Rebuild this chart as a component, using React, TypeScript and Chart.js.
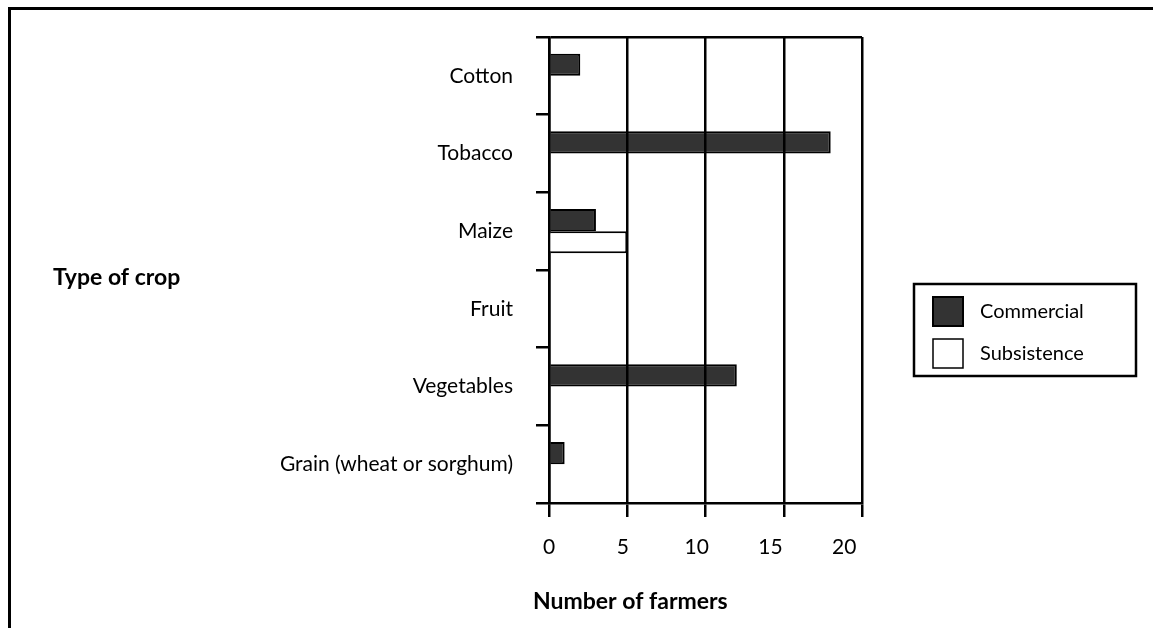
import React, { useEffect, useRef } from "react";
import { Chart, registerables } from "chart.js";

Chart.register(...registerables);

const categories = ["Cotton", "Tobacco", "Maize", "Fruit", "Vegetables", "Grain (wheat or sorghum)"];
const commercial = [2, 18, 3, 0, 12, 1];
const subsistence = [0, 0, 5, 0, 0, 0];
const seriesNames = ["Commercial", "Subsistence"];
const xTicks = [0, 5, 10, 15, 20];
const yTitle = "Type of crop";
const xTitle = "Number of farmers";

const FONT = "Lato, 'Open Sans', sans-serif";

const overlay = {
  id: "overlay",
  afterDraw(chart: any) {
    const c = chart.ctx;
    c.save();
    c.fillStyle = "#000";
    c.textBaseline = "middle";
    c.textAlign = "left";
    c.font = `bold 23px ${FONT}`;
    c.fillText(yTitle, 53, 278);
    c.fillText(xTitle, 533, 602);
    // legend
    c.lineWidth = 2.5;
    c.strokeStyle = "#000";
    c.strokeRect(914, 284, 222, 92);
    chart.data.datasets.forEach((ds: any, i: number) => {
      const y = 297 + i * 42;
      c.fillStyle = ds.backgroundColor;
      c.fillRect(933, y, 30, 29);
      c.lineWidth = i === 0 ? 2 : 1.5;
      c.strokeRect(933, y, 30, 29);
      c.fillStyle = "#000";
      c.font = `20px ${FONT}`;
      c.fillText(ds.label, 980, y + 15);
    });
    c.restore();
  },
};

export default function App() {
  const ref = useRef<HTMLCanvasElement | null>(null);
  useEffect(() => {
    if (!ref.current) return;
    const chart = new Chart(ref.current, {
      type: "bar",
      data: {
        labels: categories,
        datasets: [
          {
            label: seriesNames[0],
            data: commercial,
            backgroundColor: "rgba(0,0,0,0.8)",
            borderColor: "#000",
            borderWidth: 2,
            borderSkipped: "start",
            categoryPercentage: 0.57,
            barPercentage: 1,
          },
          {
            label: seriesNames[1],
            data: subsistence,
            backgroundColor: "#ffffff",
            borderColor: "#000",
            borderWidth: 2,
            borderSkipped: "start",
            categoryPercentage: 0.57,
            barPercentage: 1,
          },
        ],
      },
      options: {
        indexAxis: "y",
        responsive: false,
        animation: false,
        devicePixelRatio: 1,
        layout: { padding: { top: 37, right: 291, left: 0, bottom: 0 } },
        plugins: { legend: { display: false }, tooltip: { enabled: false } },
        scales: {
          x: {
            type: "linear",
            position: "bottom",
            weight: 0,
            min: xTicks[0],
            max: xTicks[xTicks.length - 1],
            afterBuildTicks: (s: any) => {
              s.ticks = xTicks.map((v) => ({ value: v }));
            },
            ticks: { display: false },
            grid: { color: "#000", lineWidth: 2.5, tickLength: 14 },
            border: { color: "#000", width: 2.5 },
            afterFit: (s: any) => {
              s.height = 14;
            },
          },
          xLabels: {
            type: "linear",
            position: "bottom",
            weight: 1,
            min: xTicks[0],
            max: 21.2,
            afterBuildTicks: (s: any) => {
              s.ticks = xTicks.map((v) => ({ value: v }));
            },
            ticks: { color: "#000", font: { family: FONT, size: 21 }, padding: 18 },
            grid: { display: false, drawTicks: false },
            border: { display: false },
            afterFit: (s: any) => {
              s.height = 111;
            },
          },
          y: {
            type: "category",
            offset: true,
            grid: {
              offset: true,
              color: (ctx: any) => (ctx.index === 0 ? "#000" : "rgba(0,0,0,0)"),
              tickColor: "#000",
              lineWidth: 2.5,
              tickLength: 13,
            },
            border: { color: "#000", width: 2.5 },
            ticks: { color: "#000", font: { family: FONT, size: 21 }, padding: 23 },
            afterFit: (s: any) => {
              s.width = 549;
            },
          },
        },
      },
      plugins: [overlay],
    });
    return () => chart.destroy();
  }, []);
  return (
    <div>
      <div
        style={{
          position: "fixed",
          left: 8,
          top: 7,
          width: 1145,
          height: 621,
          borderTop: "3px solid #000",
          borderLeft: "3px solid #000",
          boxSizing: "border-box",
        }}
      />
      <canvas
        ref={ref}
        width={1153}
        height={628}
        style={{ position: "fixed", left: 0, top: 0, display: "block" }}
      />
    </div>
  );
}
